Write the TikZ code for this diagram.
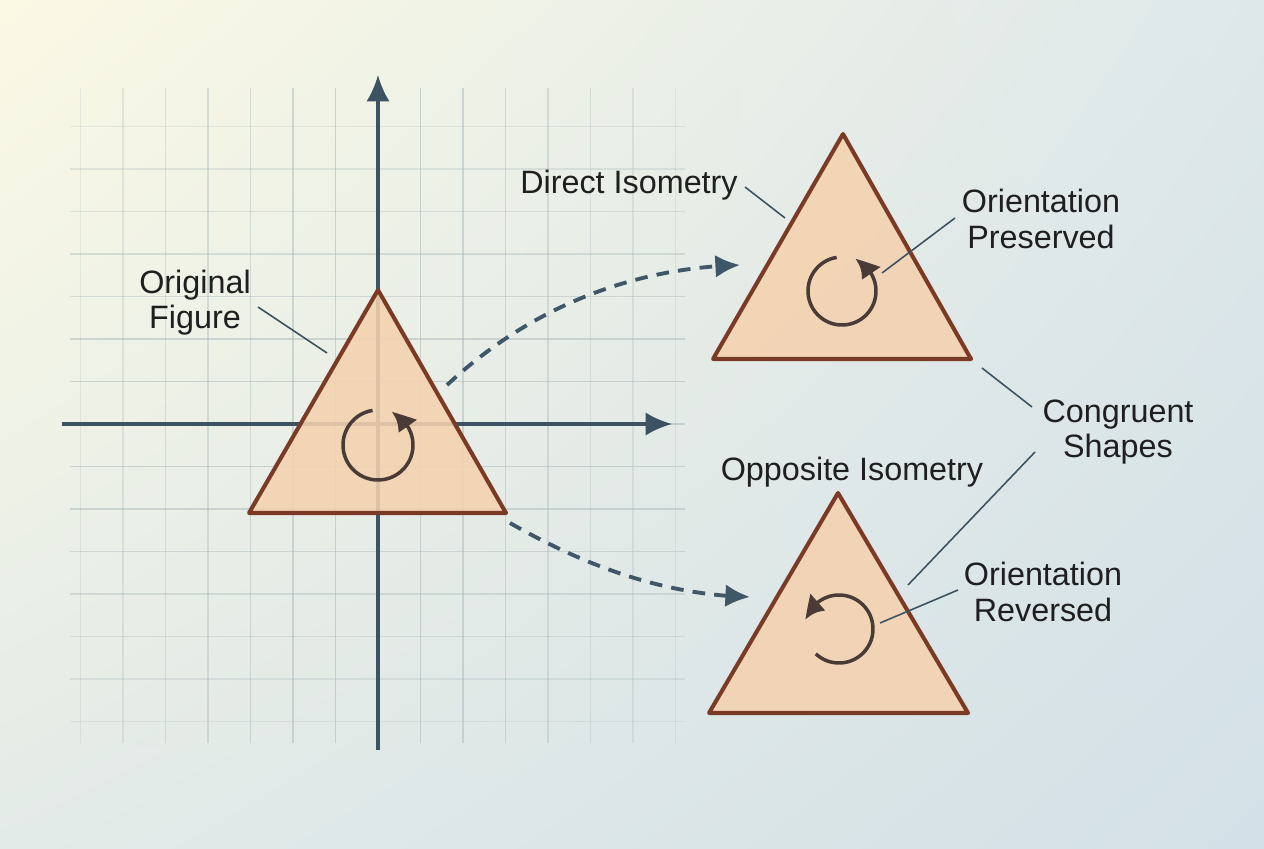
\documentclass[tikz,border=0pt]{standalone}
\usepackage{fontspec}
\setmainfont{Liberation Sans}
\usetikzlibrary{arrows.meta,bending,shadings}
\definecolor{bgul}{HTML}{FBF9E4}
\definecolor{bgur}{HTML}{DEE8EA}
\definecolor{bgll}{HTML}{E3EBE8}
\definecolor{bglr}{HTML}{D3E0E7}
\definecolor{gridc}{HTML}{A9B9BC}
\definecolor{axisc}{HTML}{3E5362}
\definecolor{trifill}{HTML}{F4D2AF}
\definecolor{triedge}{HTML}{7A3A26}
\definecolor{spinc}{HTML}{4A3B36}
\definecolor{dashc}{HTML}{3F5767}
\tikzset{
	gridline/.style={gridc, line width=0.4pt},
	axis/.style={axisc, line width=0.9pt, -{Latex[length=7.5pt,width=6.6pt]}},
	tri/.style={fill=trifill, fill opacity=0.88, draw=triedge, line width=1.15pt, line join=round},
	spin/.style={spinc, line width=1pt, -{Latex[length=6.2pt,width=6.6pt,bend]}},
	move/.style={dashc, line width=1.1pt, dash pattern=on 3.6pt off 2.6pt, -{Latex[length=7pt,width=6.5pt]}},
	leader/.style={axisc, line width=0.45pt},
	lab/.style={font=\fontsize{9.2}{10}\selectfont, text=black!88, align=center, inner sep=0pt}
}
\begin{document}
\begin{tikzpicture}
		\useasboundingbox (0,0) rectangle (12.64,8.48);
		\shade[upper left=bgul, upper right=bgur, lower left=bgll, lower right=bglr] (0,0) rectangle (12.64,8.48);
		
		% grid and axes
		\foreach \k in {-7,...,7} {
			\pgfmathsetmacro\op{0.6-0.05*abs(\k)}
			\draw[gridline, opacity=\op] ({3.78+0.425*\k}, 1.05) -- ({3.78+0.425*\k}, 7.6);
			\draw[gridline, opacity=\op] (0.7, {4.24+0.425*\k}) -- (6.85, {4.24+0.425*\k});
		}
		\coordinate (XL) at (0.62, 4.24);
		\coordinate (XR) at (6.72, 4.24);
		\coordinate (YB) at (3.78, 0.98);
		\coordinate (YT) at (3.78, 7.73);
		\draw[axis] (XL) -- (XR);
		\draw[axis] (YB) -- (YT);
		
		% triangles
		\coordinate (A1) at (3.78, 5.58);
		\coordinate (B1) at (2.49, 3.35);
		\coordinate (C1) at (5.06, 3.35);
		\coordinate (A2) at (8.43, 7.14);
		\coordinate (B2) at (7.13, 4.89);
		\coordinate (C2) at (9.71, 4.89);
		\coordinate (A3) at (8.38, 3.55);
		\coordinate (B3) at (7.09, 1.35);
		\coordinate (C3) at (9.68, 1.35);
		\draw[tri] (A1) -- (B1) -- (C1) -- cycle;
		\draw[tri] (A2) -- (B2) -- (C2) -- cycle;
		\draw[tri] (A3) -- (B3) -- (C3) -- cycle;
		
		\coordinate (S1) at (3.78, 4.03);
		\coordinate (S2) at (8.42, 5.57);
		\coordinate (S3) at (8.39, 2.19);
		\draw[spin] (S1) ++(99:0.35) arc (99:428:0.35);
		\draw[spin] (S2) ++(99:0.34) arc (99:428:0.34);
		\draw[spin] (S3) ++(227:0.34) arc (227:525:0.34);
		
		% mappings
		\coordinate (M1) at (4.47, 4.63);
		\coordinate (M2) at (7.40, 5.83);
		\coordinate (M3) at (5.10, 3.25);
		\coordinate (M4) at (7.50, 2.51);
		\draw[move] (M1) .. controls (5.3, 5.40) and (6.3, 5.80) .. (M2);
		\draw[move] (M3) .. controls (5.8, 2.85) and (6.6, 2.53) .. (M4);
		
		% labels
		\node[lab] (orig) at (1.95, 5.45) {Original\\Figure};
		\node[lab] (direct) at (6.29, 6.63) {Direct Isometry};
		\node[lab] (pres) at (10.41, 6.29) {Orientation\\Preserved};
		\node[lab] (congr) at (11.18, 4.16) {Congruent\\Shapes};
		\node[lab] (opp) at (8.52, 3.76) {Opposite Isometry};
		\node[lab] (rev) at (10.43, 2.56) {Orientation\\Reversed};
		
		\coordinate (L1) at (2.58, 5.41);
		\coordinate (E1) at (3.27, 4.95);
		\coordinate (L2) at (7.45, 6.61);
		\coordinate (E2) at (7.85, 6.30);
		\coordinate (L3) at (9.55, 6.30);
		\coordinate (E3) at (8.82, 5.75);
		\coordinate (L4) at (10.32, 4.41);
		\coordinate (E4) at (9.82, 4.80);
		\coordinate (L5) at (10.35, 3.96);
		\coordinate (E5) at (9.08, 2.63);
		\coordinate (L6) at (9.58, 2.58);
		\coordinate (E6) at (8.80, 2.25);
		\draw[leader] (L1) -- (E1);
		\draw[leader] (L2) -- (E2);
		\draw[leader] (L3) -- (E3);
		\draw[leader] (L4) -- (E4);
		\draw[leader] (L5) -- (E5);
		\draw[leader] (L6) -- (E6);
\end{tikzpicture}
\end{document}
